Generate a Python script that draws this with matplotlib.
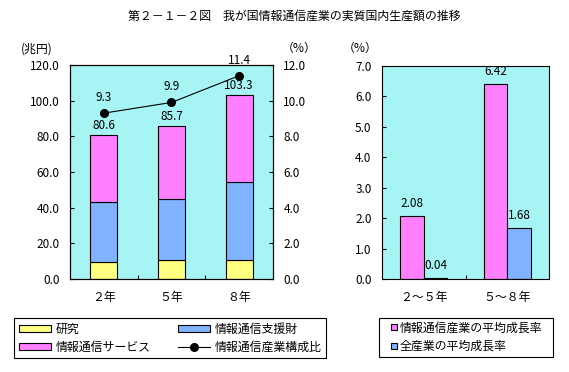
import matplotlib
matplotlib.use('Agg')
import matplotlib.pyplot as plt
from matplotlib.patches import Rectangle, Patch
from matplotlib.lines import Line2D
from matplotlib.legend_handler import HandlerPatch
from matplotlib.ticker import FormatStrFormatter
import numpy as np

plt.rcParams['font.family'] = ['Noto Sans CJK JP', 'DejaVu Sans']

# ---------------- data ----------------
title = '第２－１－２図　我が国情報通信産業の実質国内生産額の推移'
years = ['２年', '５年', '８年']
research = [9.7, 10.5, 10.6]
support = [33.7, 34.2, 43.8]
services = [37.2, 41.0, 48.9]
totals = [80.6, 85.7, 103.3]
share = [9.3, 9.9, 11.4]

periods = ['２～５年', '５～８年']
ict_growth = [2.08, 6.42]
all_growth = [0.04, 1.68]

series_names = ['研究', '情報通信支援財', '情報通信サービス', '情報通信産業構成比']
growth_names = ['情報通信産業の平均成長率', '全産業の平均成長率']

# ---------------- style ----------------
C_Y = '#FFFF80'
C_B = '#80B3FF'
C_M = '#FF80FF'
C_BG = '#A6F4F4'
LW = 0.8
FS = 8.6
NFS = 8.5

W, H = 569, 372
fig = plt.figure(figsize=(W / 100, H / 100), dpi=100)


def fx(px):
    return px / W


def fy(py):
    return 1 - py / H


def style_axes(ax):
    for s in ax.spines.values():
        s.set_linewidth(LW)
        s.set_color('black')


# ---------------- left chart ----------------
ax1 = fig.add_axes([fx(70), fy(279), (273 - 70) / W, (279 - 65) / H])
ax1.set_facecolor(C_BG)
x = np.arange(len(years))
bw = 0.4
r = np.array(research)
s = np.array(support)
v = np.array(services)
ax1.bar(x, r, bw, color=C_Y, edgecolor='black', linewidth=LW, zorder=2)
ax1.bar(x, s, bw, bottom=r, color=C_B, edgecolor='black', linewidth=LW, zorder=2)
ax1.bar(x, v, bw, bottom=r + s, color=C_M, edgecolor='black', linewidth=LW, zorder=2)
ax1.set_xlim(-0.5, len(years) - 0.5)
ax1.set_ylim(0, 120)
ax1.set_yticks(np.arange(0, 121, 20))
ax1.yaxis.set_major_formatter(FormatStrFormatter('%.1f'))
ax1.set_xticks(x)
ax1.set_xticklabels(years, fontsize=FS)
ax1.set_xticks(x[:-1] + 0.5, minor=True)
ax1.tick_params(axis='x', which='major', length=0, pad=9)
ax1.tick_params(axis='x', which='minor', direction='in', length=2.9, width=LW)
ax1.tick_params(axis='y', direction='in', length=2.9, width=LW, pad=7.5, labelsize=NFS)
for xi, t in zip(x, totals):
    ax1.annotate(f'{t:.1f}', (xi, t), xytext=(0, 2), textcoords='offset points',
                 ha='center', va='bottom', fontsize=NFS)
style_axes(ax1)

ax1b = ax1.twinx()
ax1b.set_ylim(0, 12)
ax1b.set_yticks(np.arange(0, 13, 2))
ax1b.yaxis.set_major_formatter(FormatStrFormatter('%.1f'))
ax1b.tick_params(axis='y', direction='in', length=2.9, width=LW, pad=7.5, labelsize=NFS)
ax1b.plot(x, share, color='black', linewidth=LW, marker='o', markersize=5.5, zorder=3)
for xi, p in zip(x, share):
    ax1b.annotate(f'{p:.1f}', (xi, p), xytext=(0, 6.5), textcoords='offset points',
                  ha='center', va='bottom', fontsize=NFS)
style_axes(ax1b)

# ---------------- right chart ----------------
ax2 = fig.add_axes([fx(382), fy(279), (549 - 382) / W, (279 - 66) / H])
ax2.set_facecolor(C_BG)
xp = np.arange(len(periods))
gw = 0.28
ax2.bar(xp - gw / 2, ict_growth, gw, color=C_M, edgecolor='black', linewidth=LW, zorder=2)
ax2.bar(xp + gw / 2, all_growth, gw, color=C_B, edgecolor='black', linewidth=LW, zorder=2)
for xi, val in zip(xp - gw / 2, ict_growth):
    ax2.annotate(f'{val:.2f}', (xi, val), xytext=(0, 4), textcoords='offset points',
                 ha='center', va='bottom', fontsize=NFS)
for xi, val in zip(xp + gw / 2, all_growth):
    ax2.annotate(f'{val:.2f}', (xi, val), xytext=(0, 4), textcoords='offset points',
                 ha='center', va='bottom', fontsize=NFS)
ax2.set_xlim(-0.5, len(periods) - 0.5)
ax2.set_ylim(0, 7)
ax2.set_yticks(np.arange(0, 8, 1))
ax2.yaxis.set_major_formatter(FormatStrFormatter('%.1f'))
ax2.set_xticks(xp)
ax2.set_xticklabels(periods, fontsize=FS)
ax2.set_xticks(xp[:-1] + 0.5, minor=True)
ax2.tick_params(axis='x', which='major', length=0, pad=9)
ax2.tick_params(axis='x', which='minor', direction='in', length=2.9, width=LW)
ax2.tick_params(axis='y', direction='in', length=2.9, width=LW, pad=7.5, labelsize=NFS)
style_axes(ax2)

# ---------------- texts ----------------
fig.text(fx(294), fy(16), title, ha='center', va='center', fontsize=FS)
fig.text(fx(36.5), fy(49), '(兆円)', ha='center', va='center', fontsize=FS)
fig.text(fx(299.5), fy(48), '（%）', ha='center', va='center', fontsize=FS)
fig.text(fx(360.5), fy(48), '（%）', ha='center', va='center', fontsize=FS)

# ---------------- legends ----------------
h_r = Patch(facecolor=C_Y, edgecolor='black', linewidth=LW)
h_s = Patch(facecolor=C_B, edgecolor='black', linewidth=LW)
h_v = Patch(facecolor=C_M, edgecolor='black', linewidth=LW)
h_l = Line2D([], [], color='black', linewidth=LW, marker='o', markersize=5.5)
leg1 = fig.legend([h_r, h_v, h_s, h_l],
                  [series_names[0], series_names[2], series_names[1], series_names[3]],
                  ncol=2, mode='expand', loc='upper left',
                  bbox_to_anchor=(fx(14), fy(357), (326 - 14) / W, (357 - 318) / H),
                  borderaxespad=0, fontsize=FS, handlelength=2.7, handleheight=0.45,
                  handletextpad=0.35, borderpad=0.4, labelspacing=0.4,
                  columnspacing=1.0, fancybox=False, framealpha=1, edgecolor='black')
leg1.get_frame().set_linewidth(LW)


def square_patch(legend, orig_handle, xdescent, ydescent, width, height, fontsize):
    sq = 0.5 * fontsize
    return Rectangle((-xdescent + width - sq, -ydescent + (height - sq) / 2), sq, sq)


g_m = Patch(facecolor=C_M, edgecolor='black', linewidth=LW)
g_b = Patch(facecolor=C_B, edgecolor='black', linewidth=LW)
leg2 = fig.legend([g_m, g_b], growth_names, loc='upper left', mode='expand',
                  bbox_to_anchor=(fx(379), fy(356), (553 - 379) / W, (356 - 318) / H),
                  borderaxespad=0, fontsize=FS, handlelength=1.2, handleheight=0.7,
                  handletextpad=0.25, borderpad=0.3, labelspacing=0.45,
                  fancybox=False, framealpha=1, edgecolor='black',
                  handler_map={Patch: HandlerPatch(patch_func=square_patch)})
leg2.get_frame().set_linewidth(LW)

fig.savefig('out.png', dpi=100)
